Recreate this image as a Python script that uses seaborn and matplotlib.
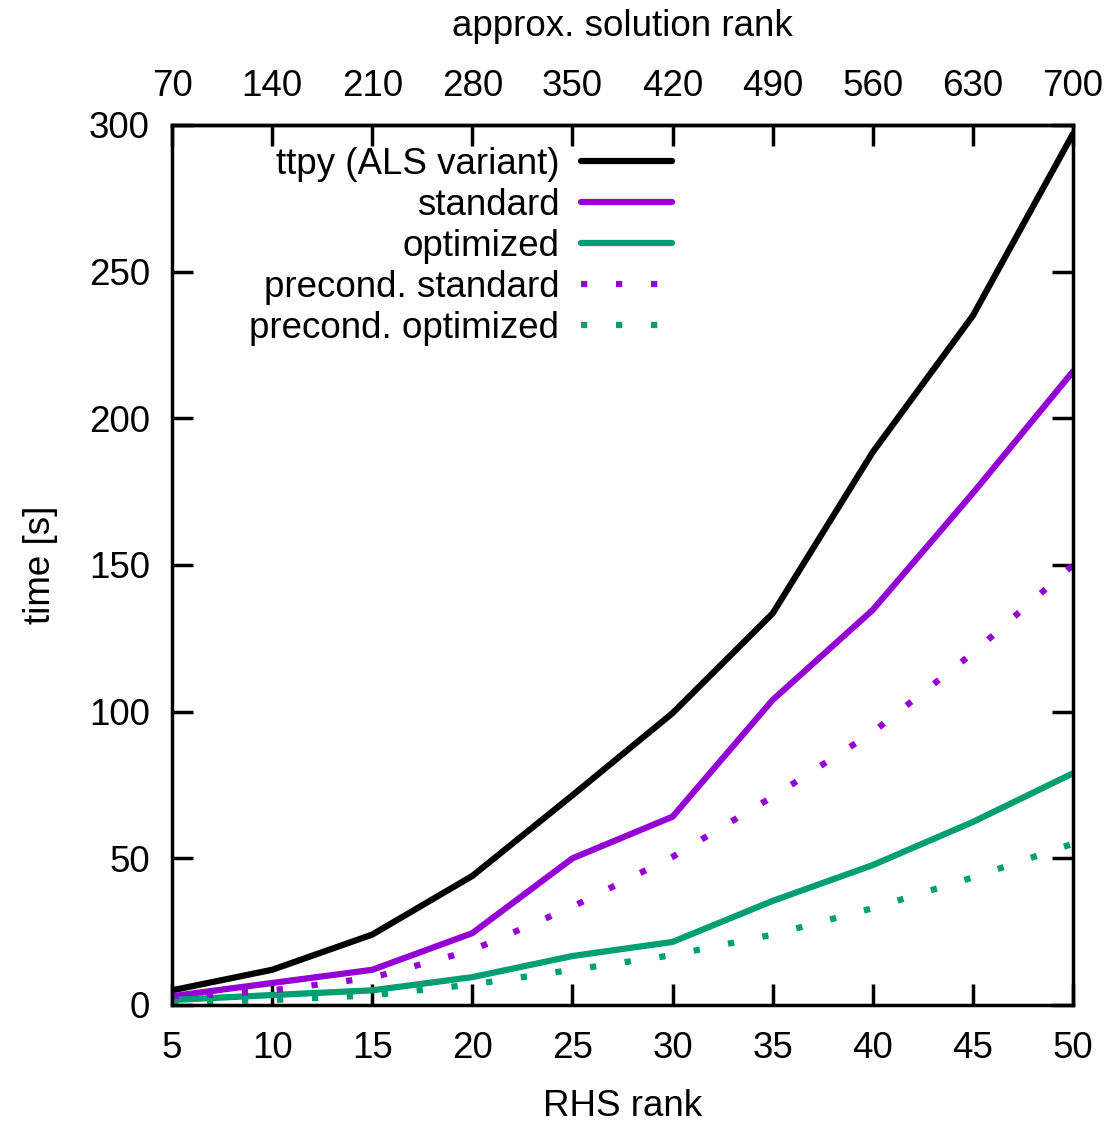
import matplotlib
matplotlib.use("Agg")
import matplotlib.pyplot as plt
import seaborn as sns
import pandas as pd

rhs_rank = [5, 10, 15, 20, 25, 30, 35, 40, 45, 50]
ttpy = [5, 12, 24, 44, 71.5, 99.5, 133.5, 188.5, 235, 297]
standard = [3, 7.5, 12, 24.5, 50, 64.2, 104, 134.7, 174.5, 216]
optimized = [1.7, 3.4, 5, 9.5, 16.7, 21.5, 35.5, 47.7, 62.4, 79]
precond_standard = [2.5, 5, 9.3, 18.7, 33.5, 50.5, 71, 93, 120, 150]
precond_optimized = [1, 1.7, 3.3, 7, 12, 17, 24, 33, 43.5, 55]

labels = ["ttpy (ALS variant)", "standard", "optimized",
          "precond. standard", "precond. optimized"]
series = [ttpy, standard, optimized, precond_standard, precond_optimized]
colors = ["#000000", "#9400D3", "#009E73", "#9400D3", "#009E73"]
styles = ["solid", "solid", "solid", "dot", "dot"]

sns.set_theme(style="ticks")
plt.rcParams["font.family"] = ["Liberation Sans", "DejaVu Sans"]
plt.rcParams["text.color"] = "black"
plt.rcParams["axes.labelcolor"] = "black"
plt.rcParams["xtick.color"] = "black"
plt.rcParams["ytick.color"] = "black"

fig = plt.figure(figsize=(11.09, 11.26), dpi=100)
ax = fig.add_axes([172 / 1109, (1126 - 1005) / 1126, 901 / 1109, 880 / 1126])

for lab, vals, col, st in zip(labels, series, colors, styles):
    df = pd.DataFrame({"RHS rank": rhs_rank, "time": vals})
    sns.lineplot(data=df, x="RHS rank", y="time", ax=ax, color=col,
                 linewidth=4.5, label=lab)
    l = ax.get_lines()[-1]
    if st == "dot":
        l.set_dashes((1.0, 4.6))
        l.set_dash_capstyle("butt")

fs = 26.5
ax.set_xlim(5, 50)
ax.set_ylim(0, 300)
ax.set_xticks(range(5, 51, 5))
ax.set_yticks(range(0, 301, 50))
ax.tick_params(axis="both", direction="in", length=15, width=2.5,
               labelsize=fs, right=True, colors="black")
ax.tick_params(axis="x", pad=19)
ax.tick_params(axis="y", pad=16)
ax.set_xlabel("RHS rank", fontsize=fs, labelpad=16)
ax.set_ylabel("time [s]", fontsize=fs, labelpad=22)
for s in ax.spines.values():
    s.set_linewidth(2.5)
    s.set_color("black")

sec = ax.secondary_xaxis("top", functions=(lambda x: x * 14, lambda x: x / 14))
sec.set_xticks(range(70, 701, 70))
sec.tick_params(direction="in", length=15, width=2.5, labelsize=fs, pad=15,
                colors="black")
sec.set_xlabel("approx. solution rank", fontsize=fs, labelpad=24)
sec.spines["top"].set_linewidth(2.5)

leg = ax.legend(loc="upper right", bbox_to_anchor=(0.579, 1.0), frameon=False,
                markerfirst=False, fontsize=fs, handlelength=2.45,
                handletextpad=0.6, labelspacing=0.165, borderaxespad=0.2)
for t in leg.get_texts():
    t.set_ha("right")
leg._legend_box.align = "right"

fig.savefig("out.png", dpi=100)
